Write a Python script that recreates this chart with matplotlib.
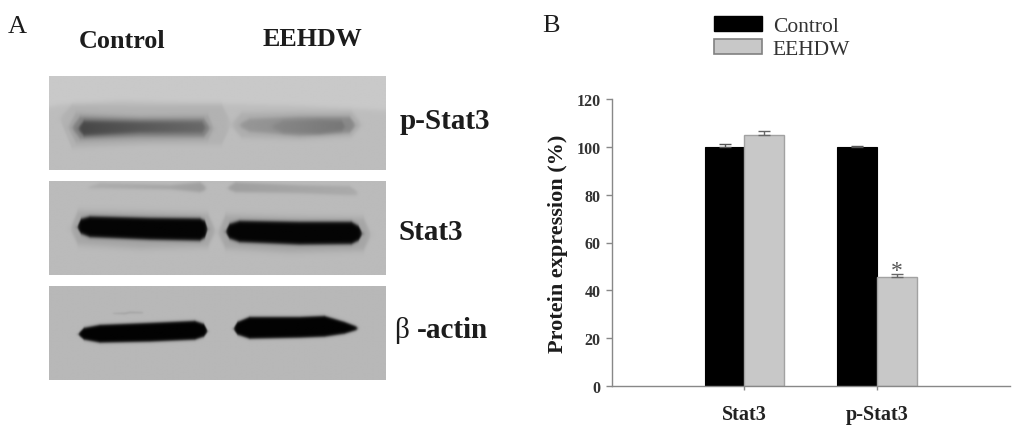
import numpy as np
import matplotlib
matplotlib.use('Agg')
import matplotlib.pyplot as plt
from matplotlib.patches import Patch

plt.rcParams['font.family'] = ['Liberation Serif', 'DejaVu Serif']

# bar chart values
categories = ['Stat3', 'p-Stat3']
control = [100, 100]
control_err = [1.2, 0.3]
eehdw = [105, 45.4]
eehdw_err = [1.7, 1.6]
y_ticks = [0, 20, 40, 60, 80, 100, 120]

# blot panels, pixel boxes (left, right, top, bottom) and background grey
panel_boxes = [(49, 386, 77, 171), (49, 386, 182, 276), (49, 386, 287, 381)]
panel_bg = [201, 187, 184]
panel_labels = ['p-Stat3', 'Stat3', 'β -actin']

# bands: outline x, top y, bottom y, grey at left, grey at right, softness
bands_pstat = [
    ([40, 60, 120, 222, 300, 395], [110, 106, 102, 105, 107, 112], [180, 180, 180, 180, 180, 180], 189, 189, 1.5),
    ([60, 72, 150, 222, 230], [118, 106, 107, 106, 120], [122, 150, 146, 146, 130], 178, 178, 1.5),
    ([68, 76, 140, 208, 214], [127, 114, 117, 116, 128], [130, 144, 142, 141, 132], 162, 162, 1.5),
    ([72, 80, 140, 204, 210], [128, 118, 120, 120, 128], [130, 140, 138, 138, 131], 130, 130, 1.2),
    ([78, 84, 140, 202, 206], [129, 122, 123, 123, 128], [131, 137, 134, 134, 130], 70, 105, 1.2),
    ([232, 242, 300, 352, 362], [124, 114, 113, 113, 124], [128, 139, 141, 138, 128], 174, 174, 1.5),
    ([240, 250, 300, 350, 356], [125, 120, 118, 118, 125], [128, 133, 137, 134, 128], 150, 136, 1.2),
    ([272, 284, 320, 342, 346], [127, 122, 121, 122, 127], [129, 134, 135, 132, 129], 135, 118, 1.2),
]
bands_stat = [
    ([88, 100, 170, 200, 206], [188, 184, 186, 183, 187], [189, 189, 190, 193, 191], 172, 158, 1),
    ([228, 236, 300, 350, 358], [188, 183, 186, 187, 192], [190, 193, 194, 196, 196], 158, 170, 1),
    ([70, 78, 140, 208, 216], [229, 212, 213, 215, 231], [231, 246, 250, 248, 233], 165, 165, 2),
    ([218, 226, 290, 364, 372], [233, 216, 218, 219, 235], [235, 250, 254, 252, 237], 165, 165, 2),
    ([77, 81, 90, 150, 200, 205, 208], [228, 220, 217.5, 219, 219.5, 222, 230], [229, 235, 238.5, 241, 242, 239, 231], 4, 4, 1),
    ([226, 230, 240, 300, 352, 359, 363], [232, 225, 222, 223, 223, 227, 234], [234, 240, 243.5, 246, 245.5, 242, 236], 4, 4, 1),
]
bands_actin = [
    ([113, 125, 130, 143], [314, 313.5, 312.5, 313], [315, 315.5, 314.5, 314.5], 165, 165, 0.5),
    ([78, 84, 100, 150, 195, 204, 208], [335, 329, 326, 324, 322, 325, 332], [336, 341, 344, 343, 341, 338, 333], 2, 2, 0.8),
    ([234, 238, 250, 300, 325, 345, 358], [329, 323, 318, 318, 317, 323, 328], [331, 336, 340, 339, 338, 335, 331], 2, 2, 0.8),
]
panel_bands = [bands_pstat, bands_stat, bands_actin]


def sig(v, s):
    return 1 / (1 + np.exp(np.clip(-v / s, -40, 40)))


def blot(box, bg, bands):
    xs = np.arange(box[0], box[1] + 1, 0.5)
    ys = np.arange(box[2], box[3] + 1, 0.5)
    x, y = np.meshgrid(xs, ys)
    img = np.full(x.shape, float(bg))
    for b in bands:
        top = np.interp(x, b[0], b[1])
        bot = np.interp(x, b[0], b[2])
        t = np.clip((x - b[0][0]) / (b[0][-1] - b[0][0]), 0, 1)
        grey = b[3] + (b[4] - b[3]) * t
        s = b[5]
        a = sig(x - b[0][0], s) * sig(b[0][-1] - x, s) * sig(y - top, s) * sig(bot - y, s)
        img = img * (1 - a) + np.minimum(img, grey) * a
    return img


fig = plt.figure(figsize=(10.24, 4.31), dpi=100)

# pixel coordinate layer for panel A and the loose text
bg_ax = fig.add_axes([0, 0, 1, 1])
bg_ax.axis('off')

for box, bg, bands in zip(panel_boxes, panel_bg, panel_bands):
    img = blot(box, bg, bands)
    bg_ax.imshow(img, cmap='gray', vmin=0, vmax=255, aspect='auto', interpolation='bilinear',
                 extent=(box[0], box[1], box[3] + 0.5, box[2] + 0.5))
bg_ax.set_xlim(0, 1024)
bg_ax.set_ylim(431, 0)

txt = '#1c1c1c'
bg_ax.text(8, 27, 'A', fontsize=19, color=txt, ha='left', va='center')
bg_ax.text(542, 26, 'B', fontsize=19, color=txt, ha='left', va='center')
bg_ax.text(122, 41, 'Control', fontsize=18.8, fontweight='bold', color=txt, ha='center', va='center')
bg_ax.text(312, 40, 'EEHDW', fontsize=18.7, fontweight='bold', color=txt, ha='center', va='center')
bg_ax.text(400, 122, panel_labels[0], fontsize=21, fontweight='bold', color=txt, ha='left', va='center')
bg_ax.text(399, 233, panel_labels[1], fontsize=21, fontweight='bold', color=txt, ha='left', va='center')
bg_ax.text(394, 331, 'β', fontsize=21, color=txt, ha='left', va='center')
bg_ax.text(417, 331, '-actin', fontsize=21, fontweight='bold', color=txt, ha='left', va='center')

# panel B
ax = fig.add_axes([611.7 / 1024, 44 / 431, 398.3 / 1024, 287 / 431])
ax.patch.set_alpha(0)
pos = np.arange(len(categories))
w = 0.3
ax.bar(pos - w / 2, control, w, color='black', edgecolor='black', linewidth=0.8,
       yerr=[[0, 0], control_err], error_kw=dict(ecolor='#555555', elinewidth=1, capsize=4, capthick=1))
ax.bar(pos + w / 2, eehdw, w, color='#c8c8c8', edgecolor='#a2a2a2', linewidth=1,
       yerr=[[0, 0], eehdw_err], error_kw=dict(ecolor='#666666', elinewidth=1, capsize=4, capthick=1))
ax.text(pos[1] + w / 2, eehdw[1] + eehdw_err[1] + 1.2, '*', fontsize=17, color='#555555', ha='center', va='center')

ax.set_xlim(-1, 2)
ax.set_ylim(0, 120)
ax.set_xticks(pos)
ax.set_xticklabels(categories, fontsize=14.5, fontweight='bold', color='#222222')
ax.set_yticks(y_ticks)
ax.set_yticklabels(y_ticks, fontsize=11.5, fontweight='bold', color='#333333')
ax.tick_params(axis='y', length=4, width=1, color='#888888', pad=4)
ax.tick_params(axis='x', length=3, width=1, color='#888888', pad=10)
for side in ['top', 'right']:
    ax.spines[side].set_visible(False)
for side in ['left', 'bottom']:
    ax.spines[side].set_color('#888888')
    ax.spines[side].set_linewidth(1)
ax.set_ylabel('Protein expression (%)', fontsize=16, fontweight='bold', color='#1c1c1c', labelpad=6)

handles = [Patch(facecolor='black', edgecolor='black', label='Control'),
           Patch(facecolor='#c8c8c8', edgecolor='#808080', linewidth=1.2, label='EEHDW')]
fig.legend(handles=handles, loc='upper left', bbox_to_anchor=(714 / 1024, 1 - 17 / 431), frameon=False,
           fontsize=15.5, handlelength=2.23, handleheight=0.7, handletextpad=0.5, labelspacing=0.12,
           borderpad=0, borderaxespad=0, labelcolor='#333333')

plt.savefig('out.png', dpi=100)
